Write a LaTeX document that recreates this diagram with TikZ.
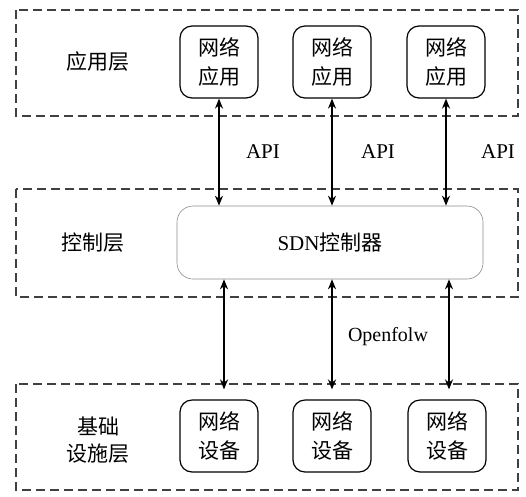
\documentclass[tikz,border=0pt]{standalone}
\usepackage{fontspec}
\setmainfont{Liberation Serif}
\newfontfamily\cjk{Noto Sans CJK SC}
\usetikzlibrary{arrows.meta}

\begin{document}
\begin{tikzpicture}[x=1pt,y=-1pt,
    layer/.style={draw=black!75,line width=1.7pt,dash pattern=on 9pt off 5pt},
    unit/.style={draw,line width=1.2pt,rounded corners=12pt,minimum width=78pt,
      minimum height=72pt,align=center,font=\cjk\fontsize{21}{29}\selectfont},
    link/.style={line width=2.2pt,{Stealth[length=10pt,width=8pt]}-{Stealth[length=10pt,width=8pt]}},
    tag/.style={font=\cjk\fontsize{21}{27}\selectfont,align=center}]
  \useasboundingbox (0,0) rectangle (526,496);

  % three dashed layers
  \draw[layer] (16,10) rectangle (518,116);
  \draw[layer] (16,189) rectangle (518,297);
  \draw[layer] (16,384) rectangle (518,490);

  \node[tag] (lapp) at (98,62) {应用层};
  \node[tag] (lctl) at (93,243) {控制层};
  \node[tag] (ldev) at (98,440) {基础\\设施层};

  \node[unit] (app1) at (219,62) {网络\\应用};
  \node[unit] (app2) at (332,62) {网络\\应用};
  \node[unit] (app3) at (446,62) {网络\\应用};

  \node[draw=black!45,line width=0.6pt,rounded corners=16pt,minimum width=306pt,
    minimum height=73pt,font=\fontsize{21}{25}\selectfont] (ctrl) at (330,242.5)
    {SDN{\cjk 控制器}};

  \node[unit] (dev1) at (219,436) {网络\\设备};
  \node[unit] (dev2) at (332,436) {网络\\设备};
  \node[unit] (dev3) at (447,436) {网络\\设备};

  % northbound
  \draw[link] (app1.south) -- (app1.south |- ctrl.north);
  \draw[link] (app2.south) -- (app2.south |- ctrl.north);
  \draw[link] (app3.south) -- (app3.south |- ctrl.north);
  \node[font=\fontsize{21}{25}\selectfont] (api1) at (263,152) {API};
  \node[font=\fontsize{21}{25}\selectfont] (api2) at (378,152) {API};
  \node[font=\fontsize{21}{25}\selectfont] (api3) at (498,152) {API};

  % southbound
  \draw[link,shorten >=10pt] ([xshift=5pt]dev1.north |- ctrl.south) -- ([xshift=5pt]dev1.north);
  \draw[link,shorten >=10pt] (dev2.north |- ctrl.south) -- (dev2.north);
  \draw[link,shorten >=10pt] ([xshift=2pt]dev3.north |- ctrl.south) -- ([xshift=2pt]dev3.north);
  \node[font=\fontsize{20}{24}\selectfont] (of) at (388,337) {Openfolw};
\end{tikzpicture}
\end{document}
